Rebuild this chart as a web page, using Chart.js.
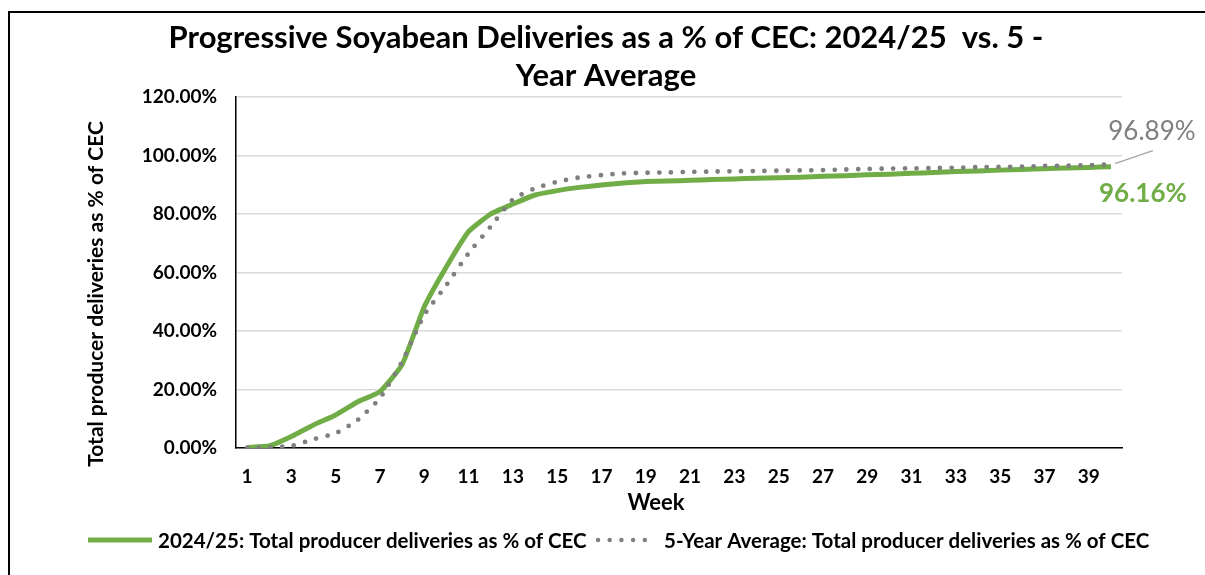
<!DOCTYPE html>
<html>
<head>
<meta charset="utf-8">
<title>Progressive Soyabean Deliveries</title>
<script src="https://cdn.jsdelivr.net/npm/chart.js@4.4.1/dist/chart.umd.min.js"></script>
<style>
  html, body { margin: 0; padding: 0; background: #fff; }
  #wrap { width: 1205px; height: 575px; position: relative; }
</style>
</head>
<body>
<div id="wrap"><canvas id="chart"></canvas></div>
<script>
const weeks = [1, 2, 3, 4, 5, 6, 7, 8, 9, 10, 11, 12, 13, 14, 15, 16, 17, 18, 19, 20,
  21, 22, 23, 24, 25, 26, 27, 28, 29, 30, 31, 32, 33, 34, 35, 36, 37, 38, 39, 40];

// % of CEC delivered
const deliveries2425 = [0.2, 0.7, 3.9, 7.9, 11.3, 15.8, 19.3, 28.5, 48.3, 62.0,
  74.0, 80.0, 83.4, 86.5, 88.0, 89.1, 89.9, 90.6, 91.1, 91.3,
  91.5, 91.8, 92.0, 92.2, 92.4, 92.6, 92.9, 93.1, 93.4, 93.6,
  93.9, 94.2, 94.5, 94.7, 95.0, 95.2, 95.5, 95.7, 95.9, 96.16];

const fiveYearAvg = [0.0, 0.2, 0.7, 3.0, 5.0, 9.6, 17.0, 29.5, 45.5, 55.7,
  66.6, 75.7, 85.0, 88.8, 91.0, 92.5, 93.3, 93.9, 94.1, 94.2,
  94.4, 94.5, 94.6, 94.7, 94.8, 94.9, 95.0, 95.2, 95.4, 95.5,
  95.6, 95.7, 95.8, 96.0, 96.1, 96.2, 96.4, 96.5, 96.7, 96.89];

const yTicks = [0, 20, 40, 60, 80, 100, 120];

const titleLines = ['Progressive Soyabean Deliveries as a % of CEC: 2024/25  vs. 5 -', 'Year Average'];
const yTitle = 'Total producer deliveries as % of CEC';
const xTitle = 'Week';
const seriesNames = ['2024/25: Total producer deliveries as % of CEC', '5-Year Average: Total producer deliveries as % of CEC'];

const GREEN = '#70AD47';
const GREY = '#7F7F7F';
const FONT = 'Lato, "Open Sans", sans-serif';

// frame, axis titles, legend and end labels
const extras = {
  id: 'extras',
  beforeDraw(chart) {
    const ctx = chart.ctx;
    ctx.save();
    ctx.fillStyle = '#fff';
    ctx.fillRect(0, 0, chart.width, chart.height);
    ctx.strokeStyle = '#000';
    ctx.lineWidth = 2;
    ctx.strokeRect(9, 12, chart.width + 10, chart.height + 10);
    ctx.restore();
  },
  afterDraw(chart) {
    const ctx = chart.ctx;
    ctx.save();
    ctx.fillStyle = '#000';
    ctx.textAlign = 'center';
    ctx.textBaseline = 'middle';

    // x axis title
    ctx.font = 'bold 22px ' + FONT;
    ctx.fillText(xTitle, 656, 503);

    // y axis title
    ctx.translate(96, 294);
    ctx.rotate(-Math.PI / 2);
    ctx.font = 'bold 21px ' + FONT;
    ctx.fillText(yTitle, 0, 0);
    ctx.setTransform(1, 0, 0, 1, 0, 0);

    // legend
    const ly = 540;
    ctx.font = 'bold 20.5px ' + FONT;
    ctx.textAlign = 'left';
    ctx.lineCap = 'butt';
    ctx.strokeStyle = GREEN;
    ctx.lineWidth = 5;
    ctx.beginPath();
    ctx.moveTo(88, ly);
    ctx.lineTo(152, ly);
    ctx.stroke();
    ctx.fillText(seriesNames[0], 158, ly + 1);

    ctx.strokeStyle = GREY;
    ctx.lineWidth = 4.5;
    ctx.lineCap = 'round';
    ctx.setLineDash([0, 11.7]);
    ctx.beginPath();
    ctx.moveTo(598, ly);
    ctx.lineTo(656, ly);
    ctx.stroke();
    ctx.setLineDash([]);
    ctx.fillText(seriesNames[1], 664, ly + 1);

    // end-of-series labels
    const last = weeks.length - 1;
    const pG = chart.getDatasetMeta(0).data[last];
    const pA = chart.getDatasetMeta(1).data[last];

    ctx.strokeStyle = '#A6A6A6';
    ctx.lineWidth = 1.5;
    ctx.lineCap = 'butt';
    ctx.beginPath();
    ctx.moveTo(pA.x + 4, pA.y - 1);
    ctx.lineTo(pA.x + 42, pA.y - 14);
    ctx.stroke();

    ctx.textAlign = 'center';
    ctx.fillStyle = '#7F7F7F';
    ctx.font = '26px ' + FONT;
    ctx.fillText(fiveYearAvg[last].toFixed(2) + '%', pA.x + 41, pA.y - 33);

    ctx.fillStyle = GREEN;
    ctx.font = 'bold 26px ' + FONT;
    ctx.fillText(deliveries2425[last].toFixed(2) + '%', pG.x + 32, pG.y + 27);

    ctx.restore();
  }
};

new Chart(document.getElementById('chart'), {
  type: 'line',
  data: {
    labels: weeks,
    datasets: [{
      label: seriesNames[0],
      data: deliveries2425,
      borderColor: GREEN,
      backgroundColor: GREEN,
      borderWidth: 5,
      borderJoinStyle: 'round',
      pointRadius: 0,
      tension: 0.15,
      order: 2
    }, {
      label: seriesNames[1],
      data: fiveYearAvg,
      borderColor: GREY,
      backgroundColor: GREY,
      borderWidth: 4.8,
      borderDash: [0, 11.7],
      borderCapStyle: 'round',
      pointRadius: 0,
      tension: 0.15,
      order: 1
    }]
  },
  options: {
    responsive: true,
    maintainAspectRatio: false,
    animation: false,
    layout: { padding: { left: 90, right: 83, top: 0, bottom: 59 } },
    plugins: {
      legend: { display: false },
      tooltip: { enabled: false },
      title: {
        display: true,
        text: titleLines,
        color: '#000',
        font: { family: FONT, size: 31, weight: 'bold', lineHeight: '38px' },
        padding: { top: 19, bottom: 2 }
      }
    },
    scales: {
      x: {
        offset: true,
        grid: { display: false, drawTicks: false },
        border: { display: true, color: '#000', width: 1.5 },
        ticks: {
          autoSkip: false,
          maxRotation: 0,
          padding: 17,
          color: '#000',
          font: { family: FONT, size: 19, weight: 'bold' },
          callback: (v, i) => (i % 2 === 0 ? weeks[i] : '')
        },
        afterFit: (scale) => { scale.height = 68; }
      },
      y: {
        min: yTicks[0],
        max: yTicks[yTicks.length - 1],
        afterBuildTicks: (scale) => { scale.ticks = yTicks.map(v => ({ value: v })); },
        grid: { color: '#D9D9D9', lineWidth: 1.5, drawTicks: false },
        border: { display: true, color: '#000', width: 1.5 },
        ticks: {
          padding: 19,
          color: '#000',
          font: { family: FONT, size: 19, weight: 'bold' },
          callback: (v) => v.toFixed(2) + '%'
        },
        afterFit: (scale) => { scale.width = 146; }
      }
    }
  },
  plugins: [extras]
});
</script>
</body>
</html>
